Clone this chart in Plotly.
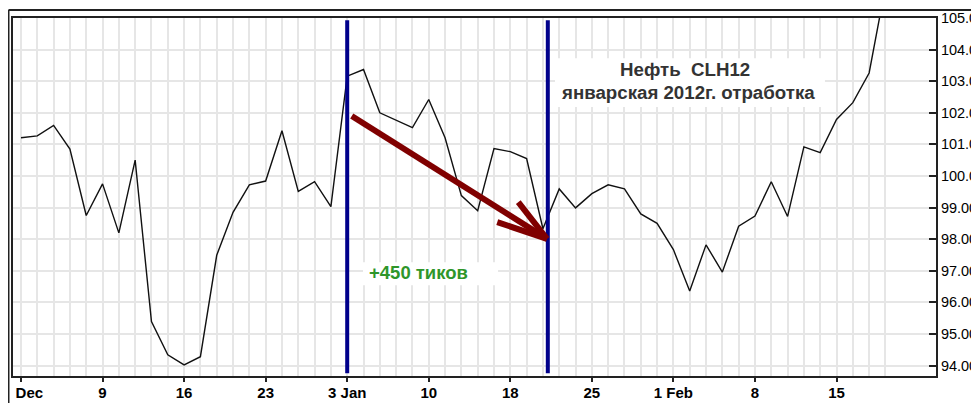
import plotly.graph_objects as go

# Trading-day index (0 = Dec 2, 2011) and CLH12 closes
day_index = list(range(54))
close = [101.21, 101.27, 101.60, 100.85, 98.75, 99.75, 98.20, 100.50, 95.39, 94.34,
         94.02, 94.28, 97.49, 98.85, 99.72, 99.84, 101.43, 99.51, 99.82, 99.03,
         103.16, 103.37, 102.00, 101.77, 101.53, 102.42, 101.21, 99.38, 98.90, 100.87,
         100.77, 100.55, 98.33, 99.59, 98.99, 99.44, 99.72, 99.59, 98.80, 98.50,
         97.67, 96.36, 97.82, 96.96, 98.41, 98.73, 99.82, 98.72, 100.92, 100.74,
         101.79, 102.32, 103.26, 106.00]

x_tick_pos = [0, 5, 10, 15, 20, 25, 30, 35, 40, 45, 50]
x_tick_text = ["\u00a0\u00a0\u00a0\u00a0Dec", "9", "16", "23", "3 Jan", "10", "18", "25", "1 Feb", "8", "15"]
y_tick_vals = [94, 95, 96, 97, 98, 99, 100, 101, 102, 103, 104, 105]
y_tick_text = [f"{v:.2f}" for v in y_tick_vals]

marker_days = [20.0, 32.3]          # vertical blue lines
title_lines = ["Нефть\u00a0 CLH12", "январская 2012г. отработка"]
gain_text = "+450 тиков"

FONT = "Liberation Sans, Arial, sans-serif"

fig = go.Figure()
fig.add_trace(go.Scatter(x=day_index, y=close, mode="lines",
                         line=dict(color="#111111", width=1.4),
                         hoverinfo="skip", showlegend=False))

shapes = []
# white label boxes (over grid, under data)
shapes.append(dict(type="rect", xref="x", yref="y", x0=32.74, x1=49.29, y0=102.18, y1=103.73,
                   fillcolor="white", line=dict(width=0), layer="between"))
shapes.append(dict(type="rect", xref="x", yref="y", x0=20.97, x1=29.25, y0=96.54, y1=97.27,
                   fillcolor="white", line=dict(width=0), layer="between"))
# blue vertical markers
for d in marker_days:
    shapes.append(dict(type="line", xref="x", yref="paper", x0=d, x1=d, y0=0.008, y1=0.994,
                       line=dict(color="#00008B", width=4), layer="above"))
# dark red arrow
arrow_col = "#800000"
shapes.append(dict(type="line", xref="x", yref="y", x0=20.28, y0=101.90, x1=32.25, y1=98.01,
                   line=dict(color=arrow_col, width=6), layer="above"))
shapes.append(dict(type="line", xref="x", yref="y", x0=30.49, y0=99.17, x1=32.25, y1=98.01,
                   line=dict(color=arrow_col, width=6), layer="above"))
shapes.append(dict(type="line", xref="x", yref="y", x0=29.20, y0=98.54, x1=32.25, y1=98.01,
                   line=dict(color=arrow_col, width=6), layer="above"))
# outer frame (top and left)
shapes.append(dict(type="line", xref="paper", yref="paper", x0=-0.00488, x1=1.2, y0=1.0223, y1=1.0223,
                   line=dict(color="#222", width=2)))
shapes.append(dict(type="line", xref="paper", yref="paper", x0=-0.00488, x1=-0.00488, y0=1.0223, y1=-0.2,
                   line=dict(color="#222", width=2)))

annotations = [
    dict(x=40.71, y=103.37, xref="x", yref="y", text="<b>%s</b>" % title_lines[0], showarrow=False,
         font=dict(family=FONT, size=18.7, color="#333333")),
    dict(x=40.91, y=102.63, xref="x", yref="y", text="<b>%s</b>" % title_lines[1], showarrow=False,
         font=dict(family=FONT, size=18.7, color="#333333")),
    dict(x=24.40, y=96.96, xref="x", yref="y", text="<b>%s</b>" % gain_text, showarrow=False,
         font=dict(family=FONT, size=18.5, color="#2f962a")),
]

# page body adds an 8px offset, so the figure is 8px smaller than the window
fig.update_layout(
    width=971, height=395,
    margin=dict(l=5, r=43, t=10, b=27, autoexpand=False),
    paper_bgcolor="white", plot_bgcolor="white",
    shapes=shapes, annotations=annotations,
    xaxis=dict(range=[-0.49, 56.1], tickmode="array", tickvals=x_tick_pos, ticktext=x_tick_text,
               ticks="outside", ticklen=4, tickwidth=1.5, tickcolor="#222",
               showgrid=True, gridcolor="#e6e6e6", gridwidth=1.5,
               minor=dict(tickmode="array", tickvals=day_index, showgrid=True,
                          gridcolor="#e6e6e6", gridwidth=1.5, ticks=""),
               showline=True, linecolor="#222", linewidth=2, mirror=True,
               zeroline=False, automargin=False, ticklabeloverflow="allow",
               ticklabelstandoff=-2,
               tickfont=dict(family=FONT, size=15, color="black", weight="bold")),
    yaxis=dict(range=[93.67, 105.0], side="right", tickmode="array", tickvals=y_tick_vals,
               ticktext=y_tick_text, ticks="inside", ticklen=7, tickwidth=1.5, tickcolor="#222",
               showgrid=True, gridcolor="#e6e6e6", gridwidth=1.5,
               showline=True, linecolor="#222", linewidth=2, mirror=True, zeroline=False,
               automargin=False, ticklabeloverflow="allow",
               tickfont=dict(family=FONT, size=14.5, color="black")),
)

fig.write_html("out.html")
